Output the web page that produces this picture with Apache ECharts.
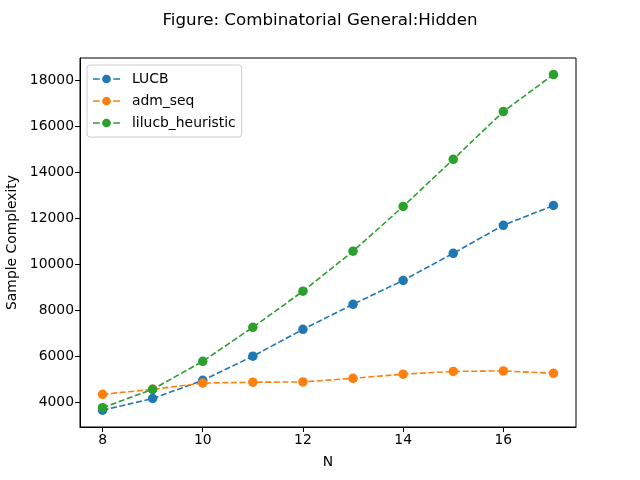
<!DOCTYPE html>
<html>
<head>
<meta charset="utf-8">
<script src="https://cdn.jsdelivr.net/npm/echarts@6/dist/echarts.min.js"></script>
<style>
  html, body { margin: 0; padding: 0; background: #fff; }
  #chart { width: 640px; height: 480px; }
</style>
</head>
<body>
<div id="chart"></div>
<script>
// data
var nValues = [8, 9, 10, 11, 12, 13, 14, 15, 16, 17];
var lucb = [3650, 4160, 4950, 6000, 7170, 8260, 9300, 10480, 11700, 12560];
var admSeq = [4340, 4560, 4830, 4870, 4880, 5040, 5220, 5340, 5360, 5260];
var lilucbHeuristic = [3760, 4560, 5780, 7260, 8830, 10570, 12520, 14570, 16650, 18260];
var xTicks = [8, 10, 12, 14, 16];
var yTicks = [4000, 6000, 8000, 10000, 12000, 14000, 16000, 18000];

var font = 'DejaVu Sans';
// dashed line with a dot, like the matplotlib legend handle
var legendIcon = 'path://M0 4.25H7V5.75H0Z M21 4.25H28V5.75H21Z M14 0.5A4.5 4.5 0 1 1 13.99 0.5Z';

function pairs(ys) {
  return nValues.map(function (n, i) { return [n, ys[i]]; });
}

function makeSeries(name, ys, color) {
  return {
    name: name,
    type: 'line',
    data: pairs(ys),
    symbol: 'circle',
    symbolSize: 9.5,
    color: color,
    lineStyle: { width: 1.6, type: [6, 2.6], color: color },
    itemStyle: { color: color },
    emphasis: { disabled: true },
    animation: false
  };
}

var chart = echarts.init(document.getElementById('chart'));
var option = {
  backgroundColor: '#fff',
  textStyle: { fontFamily: font },
  title: {
    text: 'Figure: Combinatorial General:Hidden',
    left: 'center',
    top: 7,
    textStyle: { fontFamily: font, fontSize: 16.7, fontWeight: 'normal', color: '#000' }
  },
  legend: {
    orient: 'vertical',
    left: 87,
    top: 65,
    padding: [7, 6, 7, 6],
    itemGap: 8,
    itemWidth: 27,
    itemHeight: 10,
    icon: legendIcon,
    backgroundColor: 'rgba(255,255,255,0.8)',
    borderColor: '#cccccc',
    borderWidth: 1,
    borderRadius: 3,
    textStyle: { fontFamily: font, fontSize: 13.9, color: '#000', padding: [0, 0, 0, 7] },
    data: ['LUCB', 'adm_seq', 'lilucb_heuristic']
  },
  grid: {
    left: 80, right: 64, top: 58, bottom: 53,
    outerBoundsMode: 'none',
    containLabel: false,
    show: true, borderColor: '#000', borderWidth: 1, backgroundColor: 'transparent'
  },
  xAxis: {
    type: 'value',
    min: 7.55,
    max: 17.45,
    name: 'N',
    nameLocation: 'middle',
    nameGap: 28,
    nameTextStyle: { fontFamily: font, fontSize: 13.9, color: '#000' },
    axisLine: { show: true, lineStyle: { color: '#000', width: 1 } },
    axisTick: { show: true, length: 5, lineStyle: { color: '#000' }, customValues: xTicks },
    axisLabel: { fontFamily: font, fontSize: 13.9, color: '#000', margin: 6, customValues: xTicks,
      formatter: function (v) { return String(v); } },
    splitLine: { show: false }
  },
  yAxis: {
    type: 'value',
    min: 2920,
    max: 18980,
    name: 'Sample Complexity',
    nameLocation: 'middle',
    nameGap: 60,
    nameTextStyle: { fontFamily: font, fontSize: 13.9, color: '#000' },
    axisLine: { show: true, lineStyle: { color: '#000', width: 1 } },
    axisTick: { show: true, length: 5, lineStyle: { color: '#000' }, customValues: yTicks },
    axisLabel: { fontFamily: font, fontSize: 13.9, color: '#000', margin: 6, customValues: yTicks,
      formatter: function (v) { return String(v); } },
    splitLine: { show: false }
  },
  series: [
    makeSeries('LUCB', lucb, '#1f77b4'),
    makeSeries('adm_seq', admSeq, '#ff7f0e'),
    makeSeries('lilucb_heuristic', lilucbHeuristic, '#2ca02c')
  ]
};
chart.setOption(option);
</script>
</body>
</html>
